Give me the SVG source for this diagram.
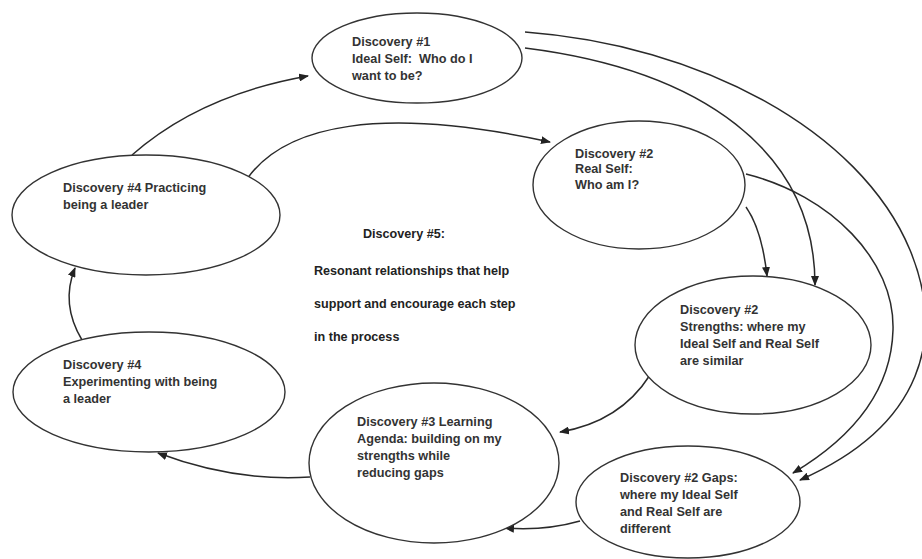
<svg xmlns="http://www.w3.org/2000/svg" width="922" height="559" viewBox="0 0 922 559">
<defs>
<marker id="ah" markerUnits="userSpaceOnUse" markerWidth="10" markerHeight="8" refX="9" refY="4" orient="auto">
<path d="M0,0 L10,4 L0,8 Z" fill="#222"/>
</marker>
<style>
.node ellipse{fill:#fff;stroke:#333;stroke-width:1.4}
.node text{font-family:"Liberation Sans",Arial,sans-serif;font-weight:bold;font-size:12.7px;fill:#333}
.edges path{fill:none;stroke:#2a2a2a;stroke-width:1.5;marker-end:url(#ah)}
.center text{font-family:"Liberation Sans",Arial,sans-serif;font-weight:bold;font-size:12.6px;fill:#222}
</style>
</defs>
<rect width="922" height="559" fill="#fff"/>
<g class="edges">
<path d="M132,155 Q200,95 308,76"/>
<path d="M247,179 C285,125 380,105 550,142"/>
<path d="M525,48 C700,70 815,150 815,285"/>
<path d="M525,32 C700,45 860,130 910,250 C945,335 925,425 800,480"/>
<path d="M746,174 C830,195 895,260 893,330 C891,400 840,445 793,473"/>
<path d="M746,207 Q762,230 767,276"/>
<path d="M650,375 Q620,422 560,432"/>
<path d="M580,521 Q545,531 505,528"/>
<path d="M310,477 Q235,482 158,453"/>
<path d="M82,340 C70,320 64,295 75,268"/>
</g>
<g id="n1" class="node">
<ellipse cx="417" cy="58" rx="105" ry="45"/>
<text x="352" y="46">Discovery #1</text>
<text x="352" y="63" xml:space="preserve">Ideal Self:  Who do I</text>
<text x="352" y="80">want to be?</text>
</g>
<g id="n2" class="node">
<ellipse cx="639" cy="185" rx="106" ry="64"/>
<text x="575" y="158">Discovery #2</text>
<text x="575" y="173">Real Self:</text>
<text x="575" y="189">Who am I?</text>
</g>
<g id="n3" class="node">
<ellipse cx="753" cy="345" rx="118" ry="69"/>
<text x="680" y="314">Discovery #2</text>
<text x="680" y="331">Strengths: where my</text>
<text x="680" y="348">Ideal Self and Real Self</text>
<text x="680" y="365">are similar</text>
</g>
<g id="n4" class="node">
<ellipse cx="688" cy="502" rx="112" ry="56"/>
<text x="620" y="482">Discovery #2 Gaps:</text>
<text x="620" y="499">where my Ideal Self</text>
<text x="620" y="516">and Real Self are</text>
<text x="620" y="533">different</text>
</g>
<g id="n5" class="node">
<ellipse cx="434" cy="463" rx="125" ry="80"/>
<text x="357" y="426">Discovery #3 Learning</text>
<text x="357" y="443">Agenda: building on my</text>
<text x="357" y="460">strengths while</text>
<text x="357" y="477">reducing gaps</text>
</g>
<g id="n6" class="node">
<ellipse cx="149" cy="392" rx="136" ry="60"/>
<text x="63" y="369">Discovery #4</text>
<text x="63" y="386">Experimenting with being</text>
<text x="63" y="403">a leader</text>
</g>
<g id="n7" class="node">
<ellipse cx="146" cy="215" rx="134" ry="60"/>
<text x="63" y="192">Discovery #4 Practicing</text>
<text x="63" y="209">being a leader</text>
</g>
<g id="center" class="center">
<text x="363" y="238">Discovery #5:</text>
<text x="314" y="275">Resonant relationships that help</text>
<text x="314" y="308">support and encourage each step</text>
<text x="314" y="341">in the process</text>
</g>
</svg>
